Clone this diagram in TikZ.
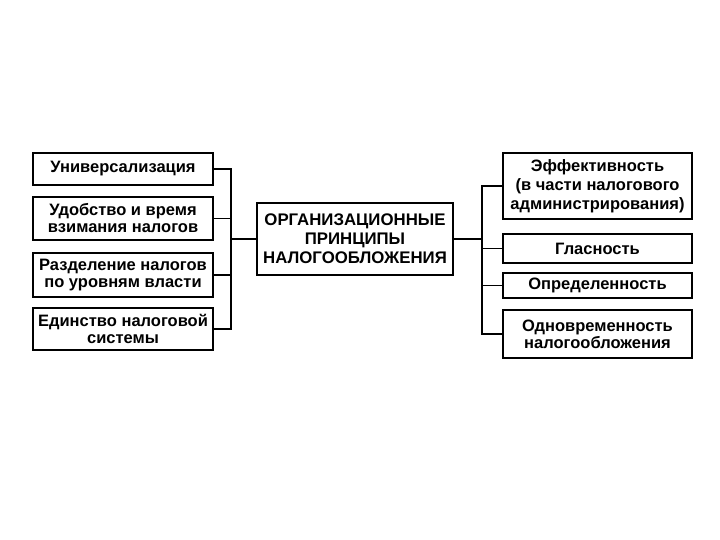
\documentclass[tikz,border=0pt]{standalone}
\usepackage{fontspec}
\setmainfont{Liberation Sans}
\usetikzlibrary{positioning,calc}

\begin{document}
\begin{tikzpicture}[
    x=1pt, y=-1pt,
    item/.style={rectangle, draw, line width=1.6pt, minimum width=180pt, inner sep=1pt, align=center, font=\bfseries\fontsize{16.5}{17}\selectfont},
    ritem/.style={item, minimum width=189pt},
    core/.style={rectangle, draw, line width=1.8pt, minimum width=196pt, minimum height=72pt, align=center, font=\bfseries\fontsize{16.8}{19}\selectfont},
    link/.style={line width=1.3pt}
]

    \useasboundingbox (0,0) rectangle (720,540);

    % Central box
    \node[core] (org) at (355,239) {ОРГАНИЗАЦИОННЫЕ\\ПРИНЦИПЫ\\НАЛОГООБЛОЖЕНИЯ};

    % Left column
    \node[item, minimum height=32pt] (univ) at (123,169) {Универсализация};
    \node[item, minimum height=43pt] (udob) at (123,218.5) {Удобство и время\\взимания налогов};
    \node[item, minimum height=44pt] (razd) at (123,275) {Разделение налогов\\по уровням власти};
    \node[item, minimum height=42pt] (edin) at (123,329) {Единство налоговой\\системы};

    % Right column
    \node[ritem, minimum height=66pt, font=\bfseries\fontsize{16.5}{19}\selectfont] (eff) at (597.5,186) {Эффективность\\(в части налогового\\администрирования)};
    \node[ritem, minimum height=29pt] (glas) at (597.5,248.5) {Гласность};
    \node[ritem, minimum height=25pt] (opr) at (597.5,285.5) {Определенность};
    \node[ritem, minimum height=48pt] (odn) at (597.5,334) {Одновременность\\налогообложения};

    % Buses
    \coordinate (lbus) at (231,0);
    \coordinate (rbus) at (482,0);

    % Left connectors
    \draw[link] (univ.east) -- (univ.east -| lbus) -- (edin.east -| lbus) -- (edin.east);
    \draw[link] (udob.east) -- (udob.east -| lbus);
    \draw[link] (razd.east) -- (razd.east -| lbus);
    \draw[link] (org.west) -- (org.west -| lbus);

    % Right connectors
    \draw[link] (eff.west) -- (eff.west -| rbus) -- (odn.west -| rbus) -- (odn.west);
    \draw[link] (glas.west) -- (glas.west -| rbus);
    \draw[link] (opr.west) -- (opr.west -| rbus);
    \draw[link] (org.east) -- (org.east -| rbus);

\end{tikzpicture}
\end{document}
